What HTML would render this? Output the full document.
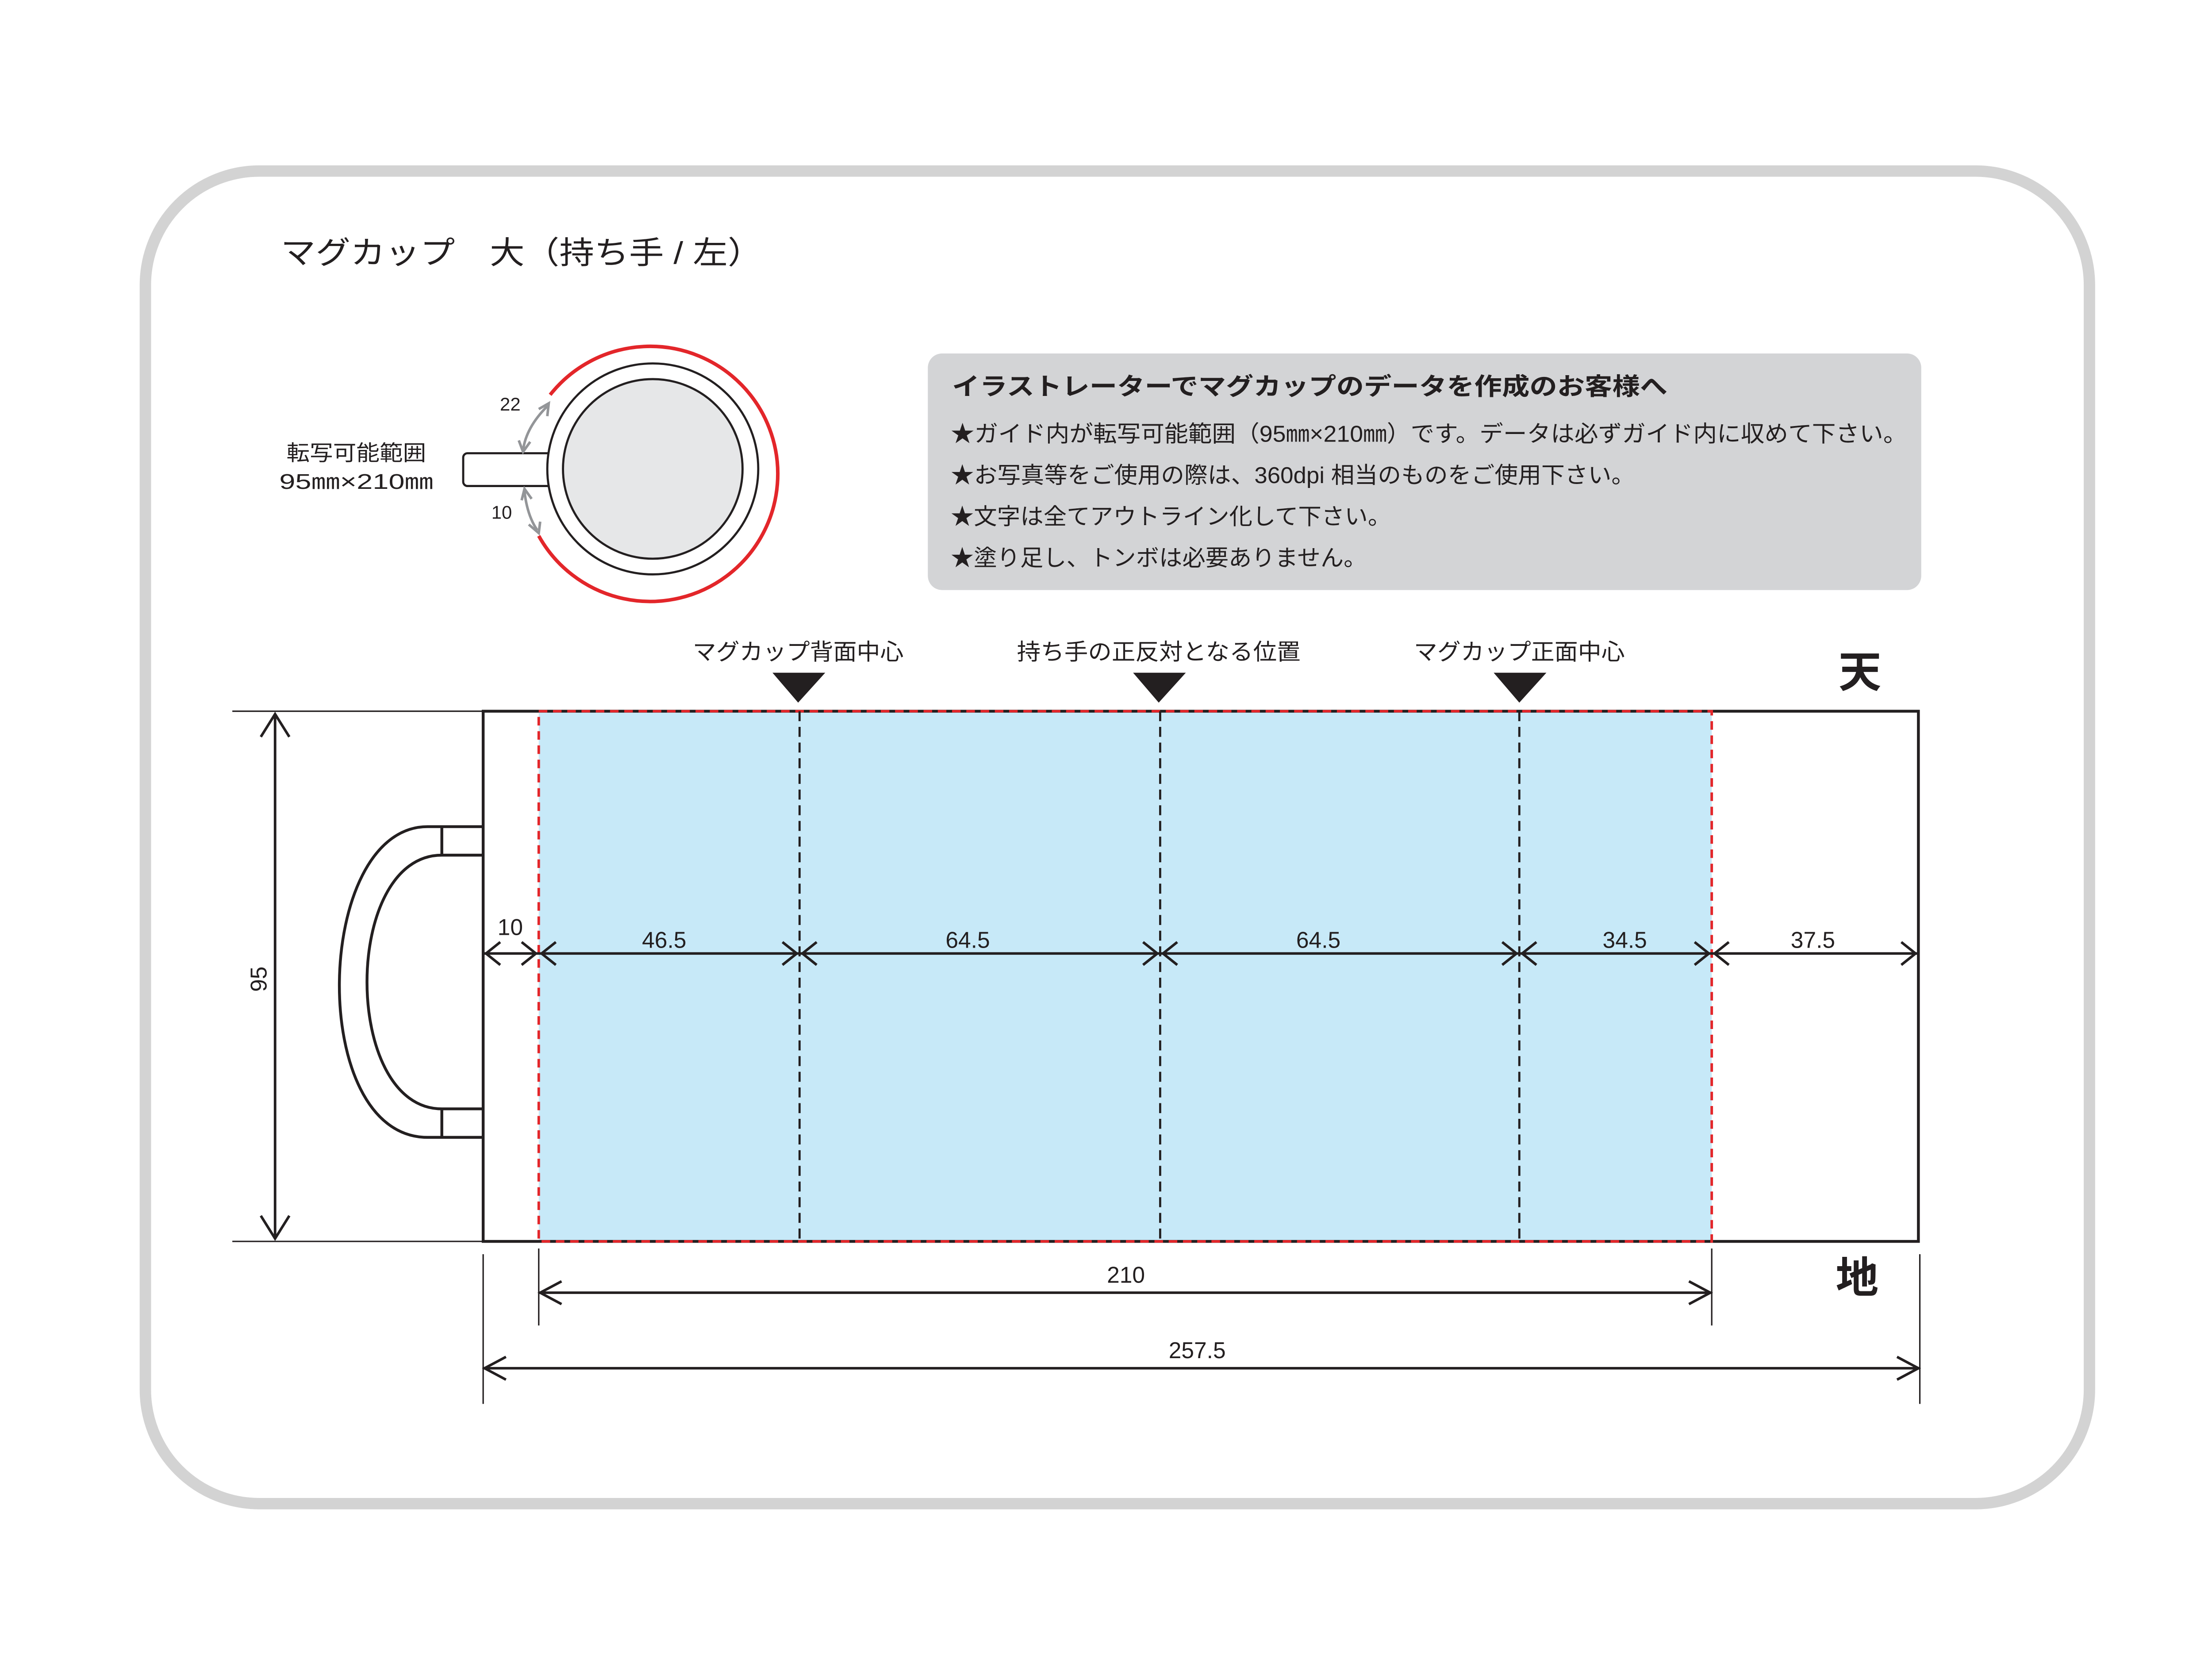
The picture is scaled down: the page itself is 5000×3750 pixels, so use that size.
<!DOCTYPE html>
<html><head><meta charset="utf-8"><style>
html,body{margin:0;padding:0;background:#fff;}
svg{display:block;}
text{font-family:"Liberation Sans","Noto Sans CJK JP",sans-serif;fill:#231f20;}
</style></head><body>
<svg width="5000" height="3750" viewBox="0 0 1552 1164" xmlns="http://www.w3.org/2000/svg">
<rect x="0" y="0" width="1552" height="1164" fill="#fff"/>
<rect x="102" y="120" width="1364" height="935" rx="80" fill="#fff" stroke="#d3d3d3" stroke-width="8"/>
<text x="197" y="185" font-size="22" textLength="338" lengthAdjust="spacingAndGlyphs">マグカップ　大（持ち手 / 左）</text>

<!-- info box -->
<rect x="651" y="248" width="697" height="166" rx="10" fill="#d3d4d6"/>
<text x="668" y="277" font-size="17" font-weight="bold" textLength="502" lengthAdjust="spacingAndGlyphs">イラストレーターでマグカップのデータを作成のお客様へ</text>
<text x="667" y="310" font-size="16" textLength="671" lengthAdjust="spacingAndGlyphs">★ガイド内が転写可能範囲（95㎜×210㎜）です。データは必ずガイド内に収めて下さい。</text>
<text x="667" y="339" font-size="16" textLength="480" lengthAdjust="spacingAndGlyphs">★お写真等をご使用の際は、360dpi 相当のものをご使用下さい。</text>
<text x="667" y="368" font-size="16" textLength="309" lengthAdjust="spacingAndGlyphs">★文字は全てアウトライン化して下さい。</text>
<text x="667" y="397" font-size="16" textLength="292" lengthAdjust="spacingAndGlyphs">★塗り足し、トンボは必要ありません。</text>

<!-- cup top view -->
<rect x="325" y="318" width="66" height="23" rx="3" fill="#fff" stroke="#231f20" stroke-width="1.5"/>
<circle cx="458" cy="329" r="74" fill="#fff" stroke="#231f20" stroke-width="1.5"/>
<circle cx="458" cy="329" r="63" fill="#e6e7e8" stroke="#231f20" stroke-width="1.5"/>
<path d="M 386 277 A 89.5 89.5 0 1 1 378 376" fill="none" stroke="#e3262a" stroke-width="2.5"/>
<path d="M 384 285 Q 369 300 367 316" fill="none" stroke="#939598" stroke-width="1.8"/>
<path d="M 378 287 L 385 283 L 384 292 M 364 309 L 367 317 L 372 310" fill="none" stroke="#939598" stroke-width="1.8"/>
<path d="M 368 345 Q 370 362 377 372" fill="none" stroke="#939598" stroke-width="1.8"/>
<path d="M 366 351 L 368 343 L 373 350 M 371 368 L 378 374 L 379 366" fill="none" stroke="#939598" stroke-width="1.8"/>
<text x="358" y="288" font-size="13" text-anchor="middle">22</text>
<text x="352" y="364" font-size="13" text-anchor="middle">10</text>
<text x="250" y="323" font-size="15" text-anchor="middle" textLength="98" lengthAdjust="spacingAndGlyphs">転写可能範囲</text>
<text x="250" y="343" font-size="15" text-anchor="middle" textLength="108" lengthAdjust="spacingAndGlyphs">95㎜×210㎜</text>

<!-- labels top -->
<text x="560" y="463" font-size="16" text-anchor="middle" textLength="148" lengthAdjust="spacingAndGlyphs">マグカップ背面中心</text>
<text x="813" y="463" font-size="16" text-anchor="middle" textLength="199" lengthAdjust="spacingAndGlyphs">持ち手の正反対となる位置</text>
<text x="1066" y="463" font-size="16" text-anchor="middle" textLength="148" lengthAdjust="spacingAndGlyphs">マグカップ正面中心</text>
<path d="M542 472 L579 472 L560 493 Z M795 472 L832 472 L813 493 Z M1048 472 L1085 472 L1066 493 Z" fill="#231f20"/>
<text x="1305" y="482" font-size="30" font-weight="bold" text-anchor="middle">天</text>
<text x="1303" y="907" font-size="30" font-weight="bold" text-anchor="middle">地</text>

<!-- main body -->
<rect x="378" y="499" width="823" height="372" fill="#c7e9f8"/>
<rect x="339" y="499" width="1007" height="372" fill="none" stroke="#231f20" stroke-width="2"/>
<rect x="378" y="499" width="823" height="372" fill="none" stroke="#e3262a" stroke-width="1.8" stroke-dasharray="6,4"/>
<path d="M561 499 V871 M814 499 V871 M1066 499 V871" stroke="#231f20" stroke-width="1.5" stroke-dasharray="7,4"/>

<!-- left lines -->
<path d="M163 499 H339 M163 871 H339" stroke="#231f20" stroke-width="1"/>
<path d="M193 501 V869 M183 517 L193 501 L203 517 M183 853 L193 869 L203 853" fill="none" stroke="#231f20" stroke-width="1.8"/>
<text x="0" y="0" font-size="16" text-anchor="middle" transform="translate(187,687) rotate(-90)">95</text>

<!-- handle -->
<path d="M339 580 H300 C220 580 215 798 300 798 H339 M339 600 H310 C240 600 240 778 310 778 H339 M310 580 V600 M310 778 V798" fill="none" stroke="#231f20" stroke-width="2"/>

<!-- dimension row -->
<path d="M339 669 H1346" stroke="#231f20" stroke-width="1.8"/>
<g fill="none" stroke="#231f20" stroke-width="1.8">
<path d="M351 661 L341 669 L351 677 M366 661 L376 669 L366 677"/>
<path d="M390 661 L380 669 L390 677 M549 661 L559 669 L549 677"/>
<path d="M573 661 L563 669 L573 677 M802 661 L812 669 L802 677"/>
<path d="M826 661 L816 669 L826 677 M1054 661 L1064 669 L1054 677"/>
<path d="M1078 661 L1068 669 L1078 677 M1189 661 L1199 669 L1189 677"/>
<path d="M1213 661 L1203 669 L1213 677 M1334 661 L1344 669 L1334 677"/>
</g>
<text x="358" y="656" font-size="16" text-anchor="middle">10</text>
<text x="466" y="665" font-size="16" text-anchor="middle">46.5</text>
<text x="679" y="665" font-size="16" text-anchor="middle">64.5</text>
<text x="925" y="665" font-size="16" text-anchor="middle">64.5</text>
<text x="1140" y="665" font-size="16" text-anchor="middle">34.5</text>
<text x="1272" y="665" font-size="16" text-anchor="middle">37.5</text>

<!-- 210 -->
<path d="M378 876 V930 M1201 876 V930 M339 880 V985 M1347 880 V985" stroke="#231f20" stroke-width="1"/>
<path d="M378 907 H1201 M394 899 L379 907 L394 915 M1185 899 L1200 907 L1185 915" fill="none" stroke="#231f20" stroke-width="1.8"/>
<text x="790" y="900" font-size="16" text-anchor="middle">210</text>
<path d="M339 960 H1347 M355 952 L340 960 L355 968 M1331 952 L1346 960 L1331 968" fill="none" stroke="#231f20" stroke-width="1.8"/>
<text x="840" y="953" font-size="16" text-anchor="middle">257.5</text>
</svg>
</body></html>
